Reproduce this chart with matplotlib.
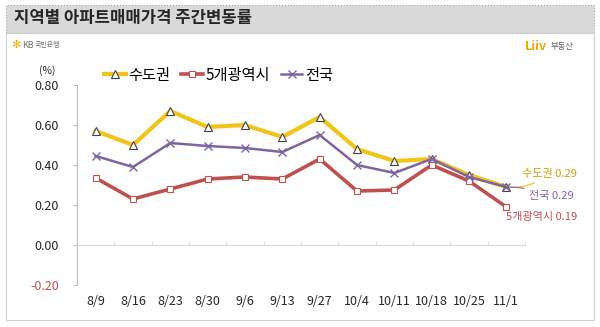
import matplotlib.pyplot as plt
from matplotlib.patches import Rectangle

plt.rcParams['font.family'] = ['Noto Sans CJK KR', 'DejaVu Sans']

# 주간 라벨과 시리즈 값 (%)
weeks = ['8/9', '8/16', '8/23', '8/30', '9/6', '9/13', '9/27',
         '10/4', '10/11', '10/18', '10/25', '11/1']
capital = [0.57, 0.50, 0.67, 0.59, 0.60, 0.54, 0.64, 0.48, 0.42, 0.43, 0.35, 0.29]
metro5 = [0.335, 0.23, 0.28, 0.33, 0.34, 0.33, 0.43, 0.27, 0.275, 0.40, 0.32, 0.19]
nation = [0.445, 0.39, 0.51, 0.495, 0.485, 0.465, 0.55, 0.40, 0.36, 0.43, 0.34, 0.29]
yticks = [-0.2, 0.0, 0.2, 0.4, 0.6, 0.8]

c_yel = '#F2C318'
c_red = '#C0504D'
c_pur = '#8064A2'

fig = plt.figure(figsize=(6, 3.27), dpi=100)
fig.patch.set_facecolor('white')

# title bar and panel (behind the axes)
fig.patches.append(Rectangle((6/600, 1-33/327), 588/600, 28/327, transform=fig.transFigure,
                             facecolor='#D9D9D9', edgecolor='#A6A6A6', lw=0.8, ls=':',
                             zorder=-10))
fig.patches.append(Rectangle((6/600, 1-320/327), 588/600, 287/327, transform=fig.transFigure,
                             facecolor='white', edgecolor='#D0D0D0', lw=0.8, zorder=-10))
fig.text(14/600, 1-18/327, '지역별 아파트매매가격 주간변동률', fontsize=12, fontweight='bold',
         color='#262626', va='center')

# logos
fig.text(11/600, 1-45/327, '✻', fontsize=8, color='#F0A800', va='center', family=['DejaVu Sans'])
fig.text(22/600, 1-45/327, 'KB', fontsize=6.5, color='#707070', va='center')
fig.text(35/600, 1-45/327, '국민은행', fontsize=5, color='#707070', va='center')
fig.text(525/600, 1-47/327, 'Liiv', fontsize=9, color='#F0A800', va='center', fontweight='bold')
fig.text(551/600, 1-47/327, '부동산', fontsize=6, color='#606060', va='center')

ax = fig.add_axes([77/600, 1-285/327, 448/600, 200/327])
ax.set_facecolor('none')
x = range(len(weeks))
ax.plot(x, capital, color=c_yel, lw=3, marker='^', ms=6, mfc='white', mec='#404040',
        mew=0.8, label='수도권', zorder=3)
ax.plot(x, metro5, color=c_red, lw=2.6, marker='s', ms=4.5, mfc='white', mec=c_red,
        mew=0.8, label='5개광역시', zorder=3)
ax.plot(x, nation, color=c_pur, lw=1.8, marker='x', ms=6, mec=c_pur,
        mew=1, label='전국', zorder=3)

ax.set_xlim(-0.5, 11.5)
ax.set_ylim(-0.2, 0.8)
ax.set_yticks(yticks)
ax.set_yticklabels([f'{v:.2f}' for v in yticks], fontsize=9, color='#262626')
ax.get_yticklabels()[0].set_color(c_red)
ax.tick_params(axis='y', length=3, color='#BFBFBF', pad=10)

for s in ['top', 'right']:
    ax.spines[s].set_visible(False)
ax.spines['left'].set_color('#BFBFBF')
ax.spines['bottom'].set_color('#D9D9D9')
ax.spines['bottom'].set_position(('data', 0))
ax.set_xticks(list(x))
ax.set_xticklabels(weeks, fontsize=9, color='#262626')
ax.set_xticks([i + 0.5 for i in x], minor=True)
ax.tick_params(axis='x', which='major', length=0, pad=36)
ax.tick_params(axis='x', which='minor', length=3, direction='in', color='#D9D9D9')

fig.text(47/600, 1-71/327, '(%)', fontsize=7.5, color='#262626', ha='center', va='center')

leg = ax.legend(loc='upper left', bbox_to_anchor=(0.03, 1.16), ncol=3, frameon=False,
                fontsize=11, handlelength=1.4, columnspacing=0.7, handletextpad=0.2)

# end annotations
ax.annotate('수도권 0.29', xy=(11, capital[-1]), xytext=(11.42, 0.355), fontsize=8,
            color='#C9A000', va='center',
            arrowprops=dict(arrowstyle='-', color=c_yel, lw=0.8,
                            connectionstyle='arc3,rad=-0.2'))
ax.annotate('전국 0.29', xy=(11, nation[-1]), xytext=(11.62, 0.245), fontsize=8,
            color=c_pur, va='center',
            arrowprops=dict(arrowstyle='-', color=c_pur, lw=0.8,
                            connectionstyle='arc3,rad=0.1'))
ax.text(11, 0.14, '5개광역시 0.19', fontsize=8, color=c_red, va='center', ha='left')

fig.savefig('out.png', dpi=100)
